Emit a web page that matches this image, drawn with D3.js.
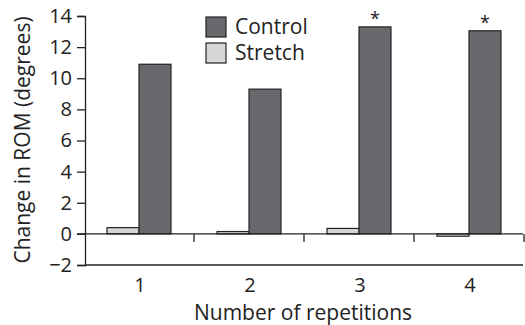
<!DOCTYPE html>
<html><head><meta charset="utf-8">
<script src="https://cdn.jsdelivr.net/npm/d3@7"></script>
<style>body{margin:0;background:#fff}svg{display:block}text{font-family:"Open Sans",sans-serif;fill:#222}</style>
</head><body>
<svg id="c" width="525" height="325"></svg>
<script>
const categories = ["1","2","3","4"];
const seriesNames = ["Stretch","Control"];
const stretchValues = [0.4, 0.15, 0.35, -0.15];
const controlValues = [10.9, 9.3, 13.3, 13.05];
const significant = [false, false, true, true];
const yTicks = [-2,0,2,4,6,8,10,12,14];
const colors = {Control:"#68696d", Stretch:"#d5d6d7"};

const svg = d3.select("#c");
const x0 = d3.scaleBand().domain(categories).range([84,524]);
const x1 = d3.scaleBand().domain(seriesNames).range([0,x0.bandwidth()]).paddingOuter(0.72);
const y = d3.scaleLinear().domain([-2,14]).range([265,16]);

// y axis
const yAxis = svg.append("g").attr("transform","translate(85,0)")
  .call(d3.axisLeft(y).tickValues(yTicks).tickSize(8).tickPadding(5).tickFormat(d=>d<0?"\u2212"+Math.abs(d):d));
yAxis.select(".domain").attr("stroke","#222").attr("stroke-width",1.3);
yAxis.selectAll(".tick line").attr("stroke","#222").attr("stroke-width",1.3);
yAxis.selectAll("text").attr("font-size",20).attr("font-family","Open Sans").attr("fill","#222");

// bottom line
svg.append("line").attr("x1",85).attr("x2",523).attr("y1",y(-2)).attr("y2",y(-2)).attr("stroke","#222").attr("stroke-width",1.3);

const data = categories.map((c,i)=>({cat:c, Stretch:stretchValues[i], Control:controlValues[i], sig:significant[i]}));
const groups = svg.append("g").selectAll("g").data(data).join("g").attr("transform",d=>`translate(${x0(d.cat)},0)`);
groups.selectAll("rect").data(d=>seriesNames.map(s=>({s, v:d[s]}))).join("rect")
  .attr("x",d=>x1(d.s)).attr("width",x1.bandwidth())
  .attr("y",d=>y(Math.max(0,d.v))).attr("height",d=>Math.abs(y(d.v)-y(0)))
  .attr("fill",d=>colors[d.s]).attr("stroke","#222").attr("stroke-width",1.2);
groups.filter(d=>d.sig).append("text")
  .attr("x",x1("Control")+x1.bandwidth()/2).attr("y",d=>y(d.Control)-2)
  .attr("text-anchor","middle").attr("font-size",18).text("*");

// zero line with ticks
const zeroAxis = svg.append("g").attr("transform",`translate(0,${y(0)})`)
  .call(d3.axisBottom(x0).tickSize(0).tickFormat(""));
zeroAxis.select(".domain").attr("stroke","#222").attr("stroke-width",1.3).attr("d",`M77,0H523`);
zeroAxis.selectAll(".tick").remove();
svg.append("g").selectAll("line").data(categories).join("line")
  .attr("x1",d=>x0(d)+x0.bandwidth()).attr("x2",d=>x0(d)+x0.bandwidth())
  .attr("y1",y(0)).attr("y2",y(0)+8).attr("stroke","#222").attr("stroke-width",1.3);

// category labels
svg.append("g").selectAll("text").data(categories).join("text")
  .attr("x",d=>x0(d)+x0.bandwidth()/2+1).attr("y",292).attr("text-anchor","middle").attr("font-size",20).text(d=>d);

// axis titles
svg.append("text").attr("x",303).attr("y",320).attr("text-anchor","middle").attr("font-size",21).text("Number of repetitions");
svg.append("text").attr("transform","translate(30,140) rotate(-90)").attr("text-anchor","middle").attr("font-size",21).text("Change in ROM (degrees)");

// legend
const legend = svg.append("g");
["Control","Stretch"].forEach((s,i)=>{
  legend.append("rect").attr("x",206).attr("y",17+i*26).attr("width",20).attr("height",20)
    .attr("fill",colors[s]).attr("stroke","#222").attr("stroke-width",1.2);
  legend.append("text").attr("x",235).attr("y",34+i*26).attr("font-size",21).text(s);
});
</script>
</body></html>
